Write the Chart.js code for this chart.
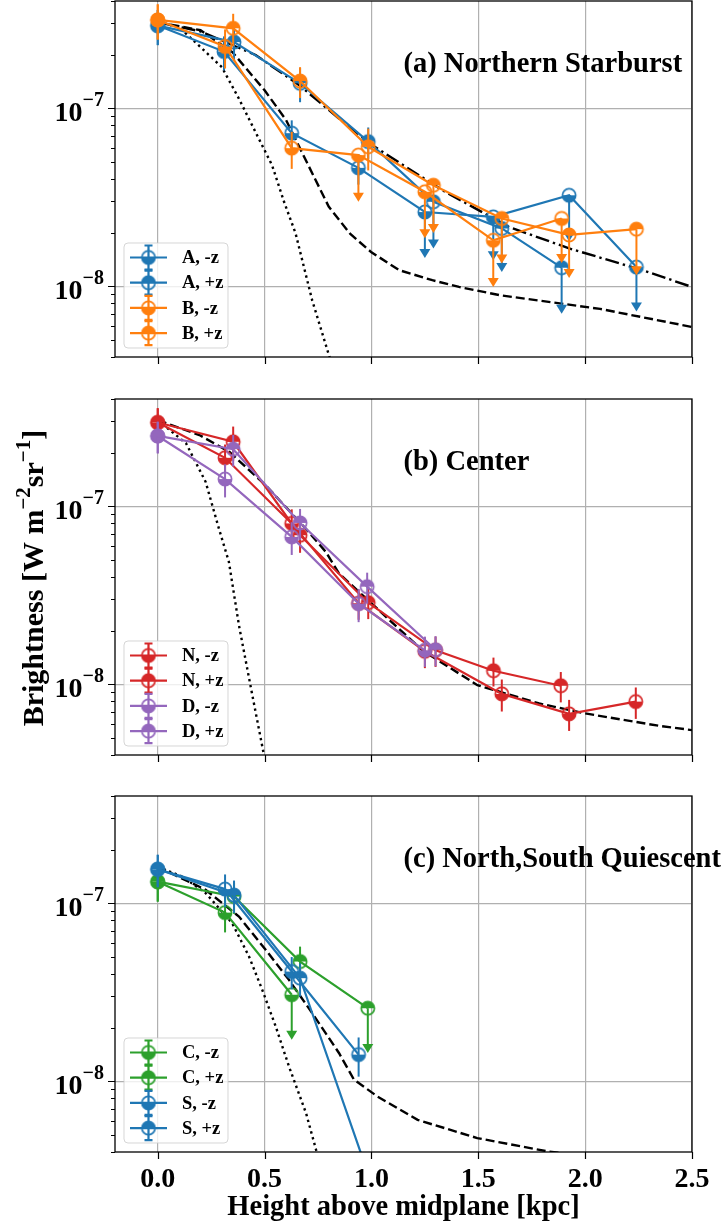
<!DOCTYPE html>
<html>
<head>
<meta charset="utf-8">
<script src="https://cdn.jsdelivr.net/npm/chart.js@4/dist/chart.umd.min.js"></script>
<style>
  html, body { margin: 0; padding: 0; background: #fff; }
  #fig { position: relative; width: 722px; height: 1228px; overflow: hidden; }
  #fig canvas { position: absolute; left: 0; }
</style>
</head>
<body>
<div id="fig">
  <canvas id="panelA" width="722" height="380" style="top:0px"></canvas>
  <canvas id="panelB" width="722" height="397" style="top:380px"></canvas>
  <canvas id="panelC" width="722" height="451" style="top:777px"></canvas>
</div>
<script>
// shared axes
const xTickVals = [0, 0.5, 1.0, 1.5, 2.0, 2.5];
const xTickText = ['0.0', '0.5', '1.0', '1.5', '2.0', '2.5'];
const yMajorVals = [1e-8, 1e-7];
const yMajorExp = ['\u22128', '\u22127'];
const yMinorMult = [2, 3, 4, 5, 6, 7, 8, 9];
const yDecades = [1e-9, 1e-8, 1e-7];

// (a) Northern Starburst
const aMinusX   = [0, 0.31, 0.627, 0.939, 1.25, 1.57, 1.925, 2.24];
const aMinusY   = [2.91e-7, 2.08e-7, 7.24e-8, 4.62e-8, 2.61e-8, 2.45e-8, 3.24e-8, 1.28e-8];
const aMinusErr = [6.5e-8, 4.5e-8, 1.3e-8, 9.0e-9, 1.17e-8, 1.05e-8, 1.46e-8, 5.6e-9];
const aMinusLim = [0, 0, 0, 0, 1, 1, 1, 1];
const aPlusX    = [0, 0.357, 0.666, 0.985, 1.29, 1.61, 1.89];
const aPlusY    = [2.91e-7, 2.35e-7, 1.38e-7, 6.49e-8, 2.98e-8, 2.11e-8, 1.27e-8];
const aPlusErr  = [6.5e-8, 5.0e-8, 3.0e-8, 1.3e-8, 1.35e-8, 9.1e-9, 5.7e-9];
const aPlusLim  = [0, 0, 0, 0, 1, 1, 1];
const bMinusX   = [0, 0.315, 0.627, 0.939, 1.25, 1.57, 1.89];
const bMinusY   = [3.13e-7, 2.22e-7, 5.96e-8, 5.45e-8, 3.39e-8, 1.81e-8, 2.40e-8];
const bMinusErr = [7.0e-8, 5.5e-8, 1.4e-8, 2.47e-8, 1.53e-8, 8.2e-9, 1.05e-8];
const bMinusLim = [0, 0, 0, 1, 1, 1, 1];
const bPlusX    = [0, 0.353, 0.666, 0.985, 1.29, 1.61, 1.925, 2.24];
const bPlusY    = [3.13e-7, 2.81e-7, 1.42e-7, 6.07e-8, 3.69e-8, 2.40e-8, 1.94e-8, 2.09e-8];
const bPlusErr  = [7.0e-8, 5.8e-8, 2.8e-8, 1.6e-8, 1.7e-8, 1.06e-8, 8.3e-9, 9.4e-9];
const bPlusLim  = [0, 0, 0, 0, 1, 1, 1, 1];

const aDashDotX = [0, 0.2, 0.458, 0.661, 0.848, 1.004, 1.332, 1.644, 1.925, 2.268, 2.5];
const aDashDotY = [3.04e-7, 2.7e-7, 1.99e-7, 1.35e-7, 8.75e-8, 6.19e-8, 3.46e-8, 2.15e-8, 1.63e-8, 1.23e-8, 9.9e-9];
const aDashX = [0, 0.2, 0.35, 0.5, 0.6, 0.7, 0.8, 0.9, 1.0, 1.13, 1.285, 1.41, 1.6, 2.07, 2.5];
const aDashY = [3.04e-7, 2.74e-7, 2.06e-7, 1.26e-7, 8.6e-8, 4.9e-8, 2.8e-8, 1.97e-8, 1.55e-8, 1.23e-8, 1.08e-8, 9.9e-9, 8.9e-9, 7.45e-9, 5.9e-9];
const aDotX = [0, 0.1, 0.208, 0.3, 0.38, 0.457, 0.535, 0.591, 0.645, 0.723, 0.801, 0.84];
const aDotY = [3.04e-7, 2.85e-7, 2.16e-7, 1.70e-7, 1.13e-7, 7.36e-8, 4.78e-8, 2.98e-8, 1.98e-8, 8.3e-9, 4.1e-9, 2.9e-9];

// (b) Center
const nMinusX   = [0, 0.315, 0.627, 0.94, 1.25, 1.61, 1.925, 2.237];
const nMinusY   = [2.95e-7, 1.87e-7, 8.0e-8, 2.85e-8, 1.53e-8, 8.82e-9, 6.81e-9, 7.98e-9];
const nMinusErr = [6.0e-8, 3.5e-8, 1.6e-8, 5.5e-9, 3.0e-9, 1.8e-9, 1.35e-9, 1.6e-9];
const nPlusX    = [0, 0.353, 0.666, 0.985, 1.30, 1.571, 1.886];
const nPlusY    = [2.95e-7, 2.30e-7, 6.87e-8, 2.87e-8, 1.55e-8, 1.19e-8, 9.8e-9];
const nPlusErr  = [6.0e-8, 5.0e-8, 1.4e-8, 5.5e-9, 3.0e-9, 2.2e-9, 1.9e-9];
const dMinusX   = [0, 0.315, 0.627, 0.94, 1.25];
const dMinusY   = [2.48e-7, 1.42e-7, 6.72e-8, 2.83e-8, 1.55e-8];
const dMinusErr = [5.0e-8, 3.0e-8, 1.4e-8, 6.0e-9, 3.0e-9];
const dPlusX    = [0, 0.353, 0.666, 0.98, 1.30];
const dPlusY    = [2.48e-7, 2.09e-7, 8.05e-8, 3.53e-8, 1.56e-8];
const dPlusErr  = [5.0e-8, 4.2e-8, 1.6e-8, 7.0e-9, 3.0e-9];

const bDashX = [0, 0.195, 0.335, 0.505, 0.692, 0.786, 0.848, 1.238, 1.496, 1.785, 2.0, 2.347, 2.5];
const bDashY = [3.04e-7, 2.51e-7, 2.02e-7, 1.31e-7, 7.49e-8, 5.54e-8, 4.19e-8, 1.55e-8, 9.87e-9, 7.79e-9, 6.85e-9, 5.83e-9, 5.52e-9];
const bDotX = [0, 0.133, 0.224, 0.286, 0.333, 0.38, 0.44, 0.497, 0.53];
const bDotY = [3.04e-7, 2.25e-7, 1.37e-7, 7.5e-8, 4.86e-8, 2.14e-8, 9.0e-9, 4.0e-9, 2.8e-9];

// (c) North,South Quiescent
const cMinusX   = [0, 0.315, 0.627];
const cMinusY   = [1.32e-7, 8.85e-8, 3.06e-8];
const cMinusErr = [3.0e-8, 2.0e-8, 1.35e-8];
const cMinusLim = [0, 0, 1];
const cPlusX    = [0, 0.357, 0.666, 0.983];
const cPlusY    = [1.32e-7, 1.09e-7, 4.70e-8, 2.57e-8];
const cPlusErr  = [3.0e-8, 2.2e-8, 1.0e-8, 1.13e-8];
const cPlusLim  = [0, 0, 0, 1];
const sMinusX   = [0, 0.315, 0.627, 0.94];
const sMinusY   = [1.55e-7, 1.20e-7, 4.13e-8, 1.41e-8];
const sMinusErr = [3.2e-8, 2.5e-8, 8.5e-9, 3.5e-9];
const sPlusX    = [0, 0.357, 0.666, 0.985];
const sPlusY    = [1.55e-7, 1.11e-7, 3.79e-8, 3.0e-9];
const sPlusErr  = [3.2e-8, 2.3e-8, 8.0e-9, 6.0e-10];

const cDashX = [0, 0.224, 0.38, 0.505, 0.614, 0.723, 0.848, 0.918, 1.029, 1.216, 1.495, 1.83, 2.1, 2.5];
const cDashY = [1.60e-7, 1.19e-7, 8.41e-8, 5.47e-8, 3.71e-8, 2.41e-8, 1.44e-8, 1.02e-8, 8.19e-9, 6.06e-9, 4.79e-9, 4.02e-9, 3.7e-9, 3.3e-9];
const cDotX = [0, 0.115, 0.224, 0.348, 0.427, 0.489, 0.552, 0.614, 0.694, 0.741, 0.78];
const cDotY = [1.60e-7, 1.41e-7, 1.14e-7, 7.73e-8, 5.02e-8, 3.26e-8, 2.03e-8, 1.21e-8, 6.61e-9, 4.11e-9, 3.0e-9];

const BLUE = '#1f77b4', ORANGE = '#ff7f0e', GREEN = '#2ca02c', RED = '#d62728', PURPLE = '#9467bd';
const SERIF = '"Liberation Serif", "Times New Roman", serif';
const zeros = n => new Array(n).fill(0);

// circle with only the top or bottom half filled
function halfMarker(color, half) {
    const c = document.createElement('canvas');
    c.width = 18; c.height = 18;
    const g = c.getContext('2d');
    g.fillStyle = color; g.strokeStyle = color; g.lineWidth = 1.7;
    g.beginPath();
    if (half === 'bottom') g.arc(9, 9, 6.6, 0, Math.PI);
    else g.arc(9, 9, 6.6, Math.PI, 2 * Math.PI);
    g.closePath();
    g.fill();
    g.beginPath();
    g.arc(9, 9, 6.6, 0, 2 * Math.PI);
    g.stroke();
    return c;
}

function seriesSet(label, color, half, xs, ys, errs, lims) {
    return {
        label: label,
        showLine: true,
        borderColor: color,
        backgroundColor: color,
        borderWidth: 2.2,
        pointStyle: halfMarker(color, half),
        pointRadius: 7,
        pointHoverRadius: 7,
        data: xs.map((x, i) => ({ x: x, y: ys[i] })),
        errs: errs,
        lims: lims,
        half: half
    };
}

function modelSet(xs, ys, dash) {
    return {
        showLine: true,
        borderColor: '#000',
        borderWidth: 2.4,
        borderDash: dash,
        pointRadius: 0,
        data: xs.map((x, i) => ({ x: x, y: ys[i] }))
    };
}

function drawPower(ctx, xRight, yPix, exp) {
    ctx.font = 'bold 28px ' + SERIF;
    const wBase = ctx.measureText('10').width;
    ctx.font = 'bold 20px ' + SERIF;
    const wExp = ctx.measureText(exp).width;
    const x0 = xRight - wExp - wBase;
    ctx.textAlign = 'left';
    ctx.textBaseline = 'alphabetic';
    ctx.font = 'bold 28px ' + SERIF;
    ctx.fillText('10', x0, yPix + 12.5);
    ctx.font = 'bold 20px ' + SERIF;
    ctx.fillText(exp, x0 + wBase, yPix - 2.5);
}

// text runs with superscripts, laid out left to right from x
function drawRuns(ctx, runs, x, y) {
    runs.forEach(r => {
        ctx.font = (r.sup ? 'bold 21px ' : 'bold 30px ') + SERIF;
        ctx.fillText(r.t, x, r.sup ? y - 13 : y);
        x += ctx.measureText(r.t).width;
    });
}

function runsWidth(ctx, runs) {
    let w = 0;
    runs.forEach(r => {
        ctx.font = (r.sup ? 'bold 21px ' : 'bold 30px ') + SERIF;
        w += ctx.measureText(r.t).width;
    });
    return w;
}

function drawLegend(ctx, series, left, top) {
    const w = 104, h = 105, r = 4;
    ctx.save();
    ctx.beginPath();
    ctx.moveTo(left + r, top);
    ctx.arcTo(left + w, top, left + w, top + h, r);
    ctx.arcTo(left + w, top + h, left, top + h, r);
    ctx.arcTo(left, top + h, left, top, r);
    ctx.arcTo(left, top, left + w, top, r);
    ctx.closePath();
    ctx.fillStyle = 'rgba(255,255,255,0.8)';
    ctx.fill();
    ctx.strokeStyle = 'rgba(204,204,204,0.8)';
    ctx.lineWidth = 1;
    ctx.stroke();

    series.forEach((s, i) => {
        const cy = top + 14.5 + i * 25.2;
        const mx = left + 24.5;
        ctx.strokeStyle = s.borderColor;
        ctx.lineWidth = 2.2;
        ctx.beginPath();
        ctx.moveTo(left + 6, cy); ctx.lineTo(left + 43, cy);
        ctx.moveTo(mx, cy - 12); ctx.lineTo(mx, cy + 12);
        ctx.moveTo(mx - 4, cy - 12); ctx.lineTo(mx + 4, cy - 12);
        ctx.moveTo(mx - 4, cy + 12); ctx.lineTo(mx + 4, cy + 12);
        ctx.stroke();
        ctx.drawImage(s.pointStyle, mx - 9, cy - 9);
        ctx.fillStyle = '#000';
        ctx.font = 'bold 18.5px ' + SERIF;
        ctx.textAlign = 'left';
        ctx.textBaseline = 'middle';
        ctx.fillText(s.label, left + 58, cy + 1);
    });
    ctx.restore();
}

function makeDeco(cfg) {
    return {
        id: 'deco',
        // error bars and upper-limit arrows under each series
        beforeDatasetDraw(chart, args) {
            const ds = chart.data.datasets[args.index];
            if (!ds.errs) return;
            const ctx = chart.ctx, a = chart.chartArea;
            const x = chart.scales.x, y = chart.scales.y;
            ctx.save();
            ctx.beginPath();
            ctx.rect(a.left, a.top, a.right - a.left, a.bottom - a.top);
            ctx.clip();
            ctx.strokeStyle = ds.borderColor;
            ctx.fillStyle = ds.borderColor;
            ctx.lineWidth = 2;
            ds.data.forEach((p, i) => {
                const px = x.getPixelForValue(p.x);
                const py = y.getPixelForValue(p.y);
                const e = ds.errs[i];
                if (ds.lims[i]) {
                    const tip = y.getPixelForValue(p.y - e);
                    ctx.beginPath();
                    ctx.moveTo(px, py); ctx.lineTo(px, tip - 6);
                    ctx.stroke();
                    ctx.beginPath();
                    ctx.moveTo(px - 5.5, tip - 9);
                    ctx.lineTo(px + 5.5, tip - 9);
                    ctx.lineTo(px, tip);
                    ctx.closePath();
                    ctx.fill();
                } else {
                    ctx.beginPath();
                    ctx.moveTo(px, y.getPixelForValue(p.y + e));
                    ctx.lineTo(px, y.getPixelForValue(p.y - e));
                    ctx.stroke();
                }
            });
            ctx.restore();
        },
        afterDraw(chart) {
            const ctx = chart.ctx, a = chart.chartArea;
            const x = chart.scales.x, y = chart.scales.y;
            ctx.save();

            // frame and ticks
            ctx.strokeStyle = '#000';
            ctx.lineWidth = 1.3;
            ctx.strokeRect(a.left, a.top, a.right - a.left, a.bottom - a.top);
            ctx.lineWidth = 1.2;
            ctx.beginPath();
            xTickVals.forEach(v => {
                const px = Math.round(x.getPixelForValue(v)) + 0.5;
                ctx.moveTo(px, a.bottom); ctx.lineTo(px, a.bottom + 7);
            });
            yMajorVals.forEach(v => {
                const py = Math.round(y.getPixelForValue(v)) + 0.5;
                ctx.moveTo(a.left, py); ctx.lineTo(a.left - 7, py);
            });
            yDecades.forEach(d => yMinorMult.forEach(m => {
                const v = d * m;
                if (v < y.min || v > y.max) return;
                const py = Math.round(y.getPixelForValue(v)) + 0.5;
                ctx.moveTo(a.left, py); ctx.lineTo(a.left - 4, py);
            }));
            ctx.stroke();

            // y tick labels
            ctx.fillStyle = '#000';
            yMajorVals.forEach((v, i) => drawPower(ctx, 104, y.getPixelForValue(v), yMajorExp[i]));

            // panel title
            ctx.font = 'bold 28.5px ' + SERIF;
            ctx.textAlign = 'left';
            ctx.textBaseline = 'alphabetic';
            ctx.fillText(cfg.title, a.left + (a.right - a.left) / 2, a.top + 71);

            if (cfg.xLabels) {
                ctx.font = 'bold 28px ' + SERIF;
                ctx.textAlign = 'center';
                xTickVals.forEach((v, i) => ctx.fillText(xTickText[i], x.getPixelForValue(v), a.bottom + 35));
                ctx.font = 'bold 28.5px ' + SERIF;
                ctx.fillText('Height above midplane [kpc]', (a.left + a.right) / 2, a.bottom + 63);
            }

            if (cfg.yLabel) {
                const runs = [
                    { t: 'Brightness [W m' }, { t: '\u22122', sup: true },
                    { t: 'sr' }, { t: '\u22121', sup: true }, { t: ']' }
                ];
                ctx.translate(43, (a.top + a.bottom) / 2 + 1);
                ctx.rotate(-Math.PI / 2);
                ctx.textAlign = 'left';
                drawRuns(ctx, runs, -runsWidth(ctx, runs) / 2, 0);
                ctx.setTransform(1, 0, 0, 1, 0, 0);
            }
            ctx.restore();

            drawLegend(ctx, cfg.series, 124, a.bottom - 9 - 105);
        }
    };
}

function makePanel(id, cfg) {
    const canvas = document.getElementById(id);
    const datasets = cfg.models.concat(cfg.series).map((d, i) => Object.assign(d, { order: -i }));
    return new Chart(canvas, {
        type: 'scatter',
        data: { datasets: datasets },
        options: {
            responsive: false,
            animation: false,
            events: [],
            layout: { autoPadding: false, padding: { top: cfg.top, right: 30, bottom: 0, left: 0 } },
            scales: {
                x: {
                    type: 'linear', min: -0.2, max: 2.5,
                    afterBuildTicks: ax => { ax.ticks = xTickVals.map(v => ({ value: v })); },
                    afterFit: ax => { ax.height = canvas.height - cfg.bottom; },
                    ticks: { display: false },
                    grid: { color: '#b0b0b0', lineWidth: 1.2, drawTicks: false },
                    border: { display: false }
                },
                y: {
                    type: 'logarithmic', min: 4e-9, max: 4e-7,
                    afterBuildTicks: ax => { ax.ticks = yMajorVals.map(v => ({ value: v })); },
                    afterFit: ax => { ax.width = 115; },
                    ticks: { display: false },
                    grid: { color: '#b0b0b0', lineWidth: 1.2, drawTicks: false },
                    border: { display: false }
                }
            },
            plugins: { legend: { display: false }, tooltip: { enabled: false } }
        },
        plugins: [makeDeco(cfg)]
    });
}

makePanel('panelA', {
    top: 1, bottom: 357,
    title: '(a) Northern Starburst',
    models: [
        modelSet(aDotX, aDotY, [2.4, 3.6]),
        modelSet(aDashX, aDashY, [9, 4]),
        modelSet(aDashDotX, aDashDotY, [14, 4, 2.4, 4])
    ],
    series: [
        seriesSet('A, -z', BLUE, 'bottom', aMinusX, aMinusY, aMinusErr, aMinusLim),
        seriesSet('A, +z', BLUE, 'top', aPlusX, aPlusY, aPlusErr, aPlusLim),
        seriesSet('B, -z', ORANGE, 'bottom', bMinusX, bMinusY, bMinusErr, bMinusLim),
        seriesSet('B, +z', ORANGE, 'top', bPlusX, bPlusY, bPlusErr, bPlusLim)
    ]
});

makePanel('panelB', {
    top: 19, bottom: 375,
    title: '(b) Center',
    yLabel: true,
    models: [
        modelSet(bDotX, bDotY, [2.4, 3.6]),
        modelSet(bDashX, bDashY, [9, 4])
    ],
    series: [
        seriesSet('N, -z', RED, 'bottom', nMinusX, nMinusY, nMinusErr, zeros(nMinusX.length)),
        seriesSet('N, +z', RED, 'top', nPlusX, nPlusY, nPlusErr, zeros(nPlusX.length)),
        seriesSet('D, -z', PURPLE, 'bottom', dMinusX, dMinusY, dMinusErr, zeros(dMinusX.length)),
        seriesSet('D, +z', PURPLE, 'top', dPlusX, dPlusY, dPlusErr, zeros(dPlusX.length))
    ]
});

makePanel('panelC', {
    top: 19, bottom: 375,
    title: '(c) North,South Quiescent',
    xLabels: true,
    models: [
        modelSet(cDotX, cDotY, [2.4, 3.6]),
        modelSet(cDashX, cDashY, [9, 4])
    ],
    series: [
        seriesSet('C, -z', GREEN, 'bottom', cMinusX, cMinusY, cMinusErr, cMinusLim),
        seriesSet('C, +z', GREEN, 'top', cPlusX, cPlusY, cPlusErr, cPlusLim),
        seriesSet('S, -z', BLUE, 'bottom', sMinusX, sMinusY, sMinusErr, zeros(sMinusX.length)),
        seriesSet('S, +z', BLUE, 'top', sPlusX, sPlusY, sPlusErr, zeros(sPlusX.length))
    ]
});
</script>
</body>
</html>
